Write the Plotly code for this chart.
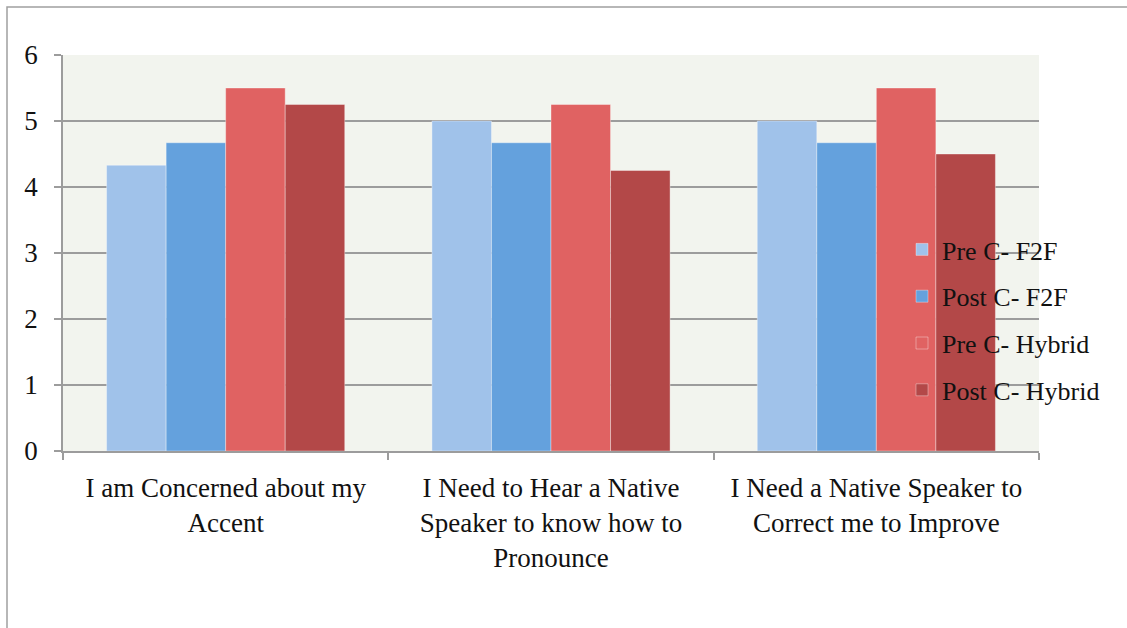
import plotly.graph_objects as go

categories = [
    "I am Concerned about my<br>Accent",
    "I Need to Hear a Native<br>Speaker to know how to<br>Pronounce",
    "I Need a Native Speaker to<br>Correct me to Improve",
]
series_names = ["Pre C- F2F", "Post C- F2F", "Pre C- Hybrid", "Post C- Hybrid"]
pre_f2f = [4.33, 5.0, 5.0]
post_f2f = [4.67, 4.67, 4.67]
pre_hybrid = [5.5, 5.25, 5.5]
post_hybrid = [5.25, 4.25, 4.5]
y_ticks = [0, 1, 2, 3, 4, 5, 6]

series_values = [pre_f2f, post_f2f, pre_hybrid, post_hybrid]
colors = ["#A0C2EA", "#64A1DD", "#E06262", "#B34848"]

FONT = "Liberation Serif"
GRID = "#9C9C9C"

fig = go.Figure()
for i, (name, vals, col) in enumerate(zip(series_names, series_values, colors)):
    fig.add_trace(go.Bar(
        x=categories, y=vals, name=name, legendgroup=str(i),
        marker=dict(color=col, line=dict(width=0.8, color="rgba(255,255,255,0.45)")),
    ))

W, H = 1127, 628
L, R, T, B = 63, 88, 55, 177
pw, ph = W - L - R, H - T - B

def px_x(x):
    return (x - L) / pw

def px_y(y):
    return (H - B - y) / ph

fig.update_layout(
    width=W, height=H,
    margin=dict(l=L, r=R, t=T, b=B, pad=0),
    paper_bgcolor="white",
    plot_bgcolor="#F2F4EE",
    barmode="group",
    bargap=0.268,
    bargroupgap=0,
    font=dict(family=FONT, size=26, color="#111111"),
    legend=dict(
        x=px_x(902), y=px_y(226), xanchor="left", yanchor="top",
        bgcolor="rgba(0,0,0,0)", font=dict(family=FONT, size=26),
        tracegroupgap=10, traceorder="grouped",
    ),
    xaxis=dict(
        showgrid=False, showline=True, linecolor=GRID, linewidth=1.5,
        ticks="outside", tickson="boundaries", ticklen=7, tickcolor=GRID, tickwidth=1.5,
        tickfont=dict(family=FONT, size=27), ticklabelstandoff=12,
    ),
    yaxis=dict(
        range=[0, 6], tickvals=y_ticks, showgrid=True, gridcolor=GRID, gridwidth=1.5,
        showline=True, linecolor=GRID, linewidth=1.5, zeroline=False,
        ticks="outside", ticklen=7, tickcolor=GRID, tickwidth=1.5,
        tickfont=dict(family=FONT, size=27), ticklabelstandoff=11,
    ),
    shapes=[dict(
        type="rect", xref="paper", yref="paper",
        x0=px_x(7), x1=px_x(1150), y0=px_y(660), y1=px_y(7),
        line=dict(color="#A0A0A0", width=1.5), fillcolor="rgba(0,0,0,0)",
    )],
)

fig.write_html("out.html")
